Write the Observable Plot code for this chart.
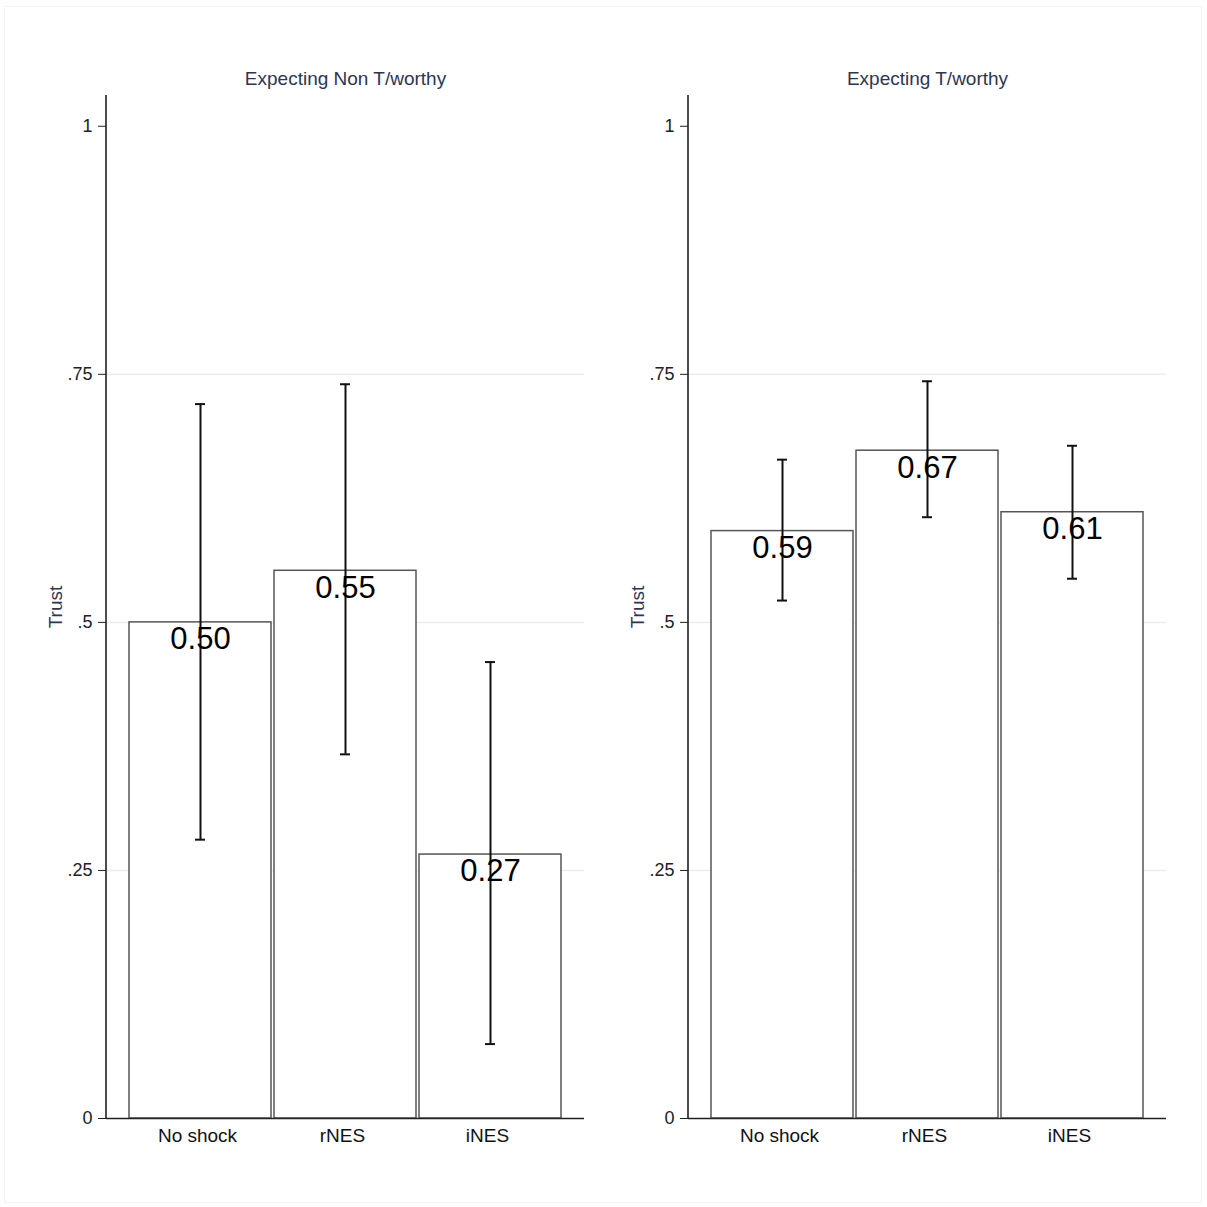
<!DOCTYPE html>
<html>
<head>
<meta charset="utf-8">
<script src="https://cdn.jsdelivr.net/npm/d3@7"></script>
<script src="https://cdn.jsdelivr.net/npm/@observablehq/plot@0.6"></script>
<style>
  html, body { margin: 0; padding: 0; background: #fff; }
  #wrap { position: relative; width: 1207px; height: 1207px; overflow: hidden; background: #fff; }
  #border { position: absolute; left: 4px; top: 6px; width: 1198px; height: 1197px; border: 1px solid #f4f4f4; box-sizing: border-box; }
  .panel { position: absolute; top: 0; }
</style>
</head>
<body>
<div id="wrap"><div id="border"></div></div>
<script>
const categories = ["No shock", "rNES", "iNES"];
const panelTitles = ["Expecting Non T/worthy", "Expecting T/worthy"];
const trustNonTw = [0.500, 0.552, 0.266];
const loNonTw = [0.281, 0.367, 0.075];
const hiNonTw = [0.720, 0.740, 0.460];
const trustTw = [0.592, 0.673, 0.611];
const loTw = [0.522, 0.606, 0.544];
const hiTw = [0.664, 0.743, 0.678];
const yTicks = [0, 0.25, 0.5, 0.75, 1];
const yTickLabels = ["0", ".25", ".5", ".75", "1"];
const gridTicks = [0.25, 0.5, 0.75];
const yLabel = "Trust";

const font = "Liberation Sans, Arial, sans-serif";

function axisLineLeft() {
  return (index, scales, values, dim) => {
    const l = document.createElementNS("http://www.w3.org/2000/svg", "line");
    l.setAttribute("x1", dim.marginLeft);
    l.setAttribute("x2", dim.marginLeft);
    l.setAttribute("y1", dim.marginTop);
    l.setAttribute("y2", dim.height - dim.marginBottom);
    l.setAttribute("stroke", "#111");
    l.setAttribute("stroke-width", 1.5);
    return l;
  };
}

function makePanel(title, vals, lo, hi) {
  const data = categories.map((c, i) => ({cat: c, value: vals[i], lo: lo[i], hi: hi[i]}));
  return Plot.plot({
    width: 603,
    height: 1207,
    marginLeft: 106,
    marginRight: 19,
    marginTop: 95,
    marginBottom: 89,
    style: {fontFamily: font, background: "transparent", overflow: "visible"},
    x: {domain: categories, paddingInner: 0.02, paddingOuter: 0.158, axis: null},
    y: {domain: [0, 1.031], axis: null},
    marks: [
      Plot.ruleY(gridTicks, {stroke: "#e6eff1", strokeWidth: 1.5}),
      Plot.barY(data, {x: "cat", y: "value", fill: "white", stroke: "#555", strokeWidth: 1.5}),
      Plot.ruleX(data, {x: "cat", y1: "lo", y2: "hi", stroke: "#111", strokeWidth: 2}),
      Plot.tickY(data, {x: "cat", y: "lo", stroke: "#111", strokeWidth: 2, inset: 66}),
      Plot.tickY(data, {x: "cat", y: "hi", stroke: "#111", strokeWidth: 2, inset: 66}),
      Plot.text(data, {x: "cat", y: "value", text: d => d.value.toFixed(2), fontSize: 31, fill: "#000", dy: 17, lineAnchor: "middle", textAnchor: "middle"}),
      Plot.ruleY([0], {stroke: "#222", strokeWidth: 1.5}),
      axisLineLeft(),
      Plot.axisY({ticks: yTicks, tickFormat: (d) => yTickLabels[yTicks.indexOf(d)], tickSize: 8, tickPadding: 6, fontSize: 18, label: null, color: "#222"}),
      Plot.axisX({tickSize: 0, tickPadding: 10, dx: -3, fontSize: 19, label: null, color: "#111"}),
      Plot.text([title], {frameAnchor: "top", dy: -17, fontSize: 19, fill: "#2e3552", lineAnchor: "middle"}),
      Plot.text([yLabel], {frameAnchor: "left", dx: -51, rotate: -90, fontSize: 19, fill: "#2e3552", lineAnchor: "middle", textAnchor: "middle"})
    ]
  });
}

const wrap = document.getElementById("wrap");
const p1 = makePanel(panelTitles[0], trustNonTw, loNonTw, hiNonTw);
p1.classList.add("panel"); p1.style.left = "0px";
wrap.appendChild(p1);
const p2 = makePanel(panelTitles[1], trustTw, loTw, hiTw);
p2.classList.add("panel"); p2.style.left = "582px";
wrap.appendChild(p2);
</script>
</body>
</html>
